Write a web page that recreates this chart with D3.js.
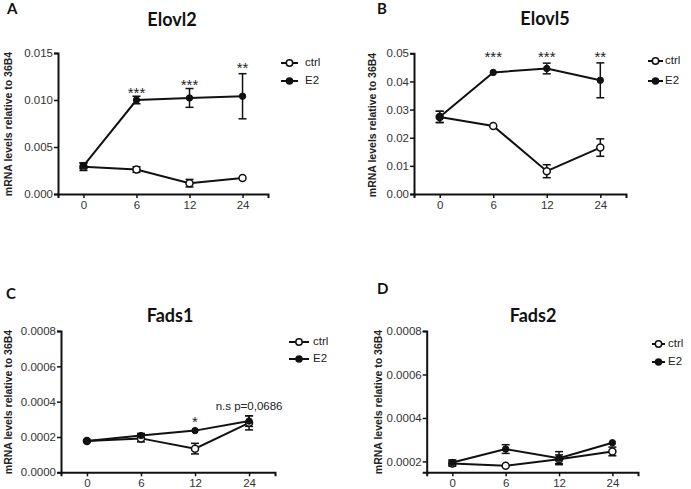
<!DOCTYPE html>
<html><head><meta charset="utf-8">
<script src="https://cdn.jsdelivr.net/npm/d3@7"></script>
<style>body{margin:0;background:#fff}svg{display:block}</style>
</head><body>
<svg id="c" width="691" height="489"></svg>
<script>
// ---- data ----
const timepoints = ["0","6","12","24"];
const seriesNames = ["ctrl","E2"];
const panelLetters = ["A","B","C","D"];
const genes = ["Elovl2","Elovl5","Fads1","Fads2"];

const elovl2Ctrl = [0.0029, 0.0026, 0.00115, 0.0017];
const elovl2CtrlErr = [0.0004, 0.0003, 0.0004, 0.0001];
const elovl2E2 = [0.0030, 0.0100, 0.01022, 0.0104];
const elovl2E2Err = [0.0003, 0.0004, 0.0010, 0.0024];
const elovl2Ticks = [0, 0.005, 0.010, 0.015];
const elovl2Stars = ["", "***", "***", "**"];

const elovl5Ctrl = [0.0274, 0.0242, 0.0081, 0.0165];
const elovl5CtrlErr = [0.0020, 0.0003, 0.0023, 0.0031];
const elovl5E2 = [0.0274, 0.0432, 0.0446, 0.0404];
const elovl5E2Err = [0.0020, 0.0003, 0.0019, 0.0062];
const elovl5Ticks = [0, 0.01, 0.02, 0.03, 0.04, 0.05];
const elovl5Stars = ["", "***", "***", "**"];

const fads1Ctrl = [0.000177, 0.000192, 0.000134, 0.000280];
const fads1CtrlErr = [0.000004, 0.000020, 0.000030, 0.000040];
const fads1E2 = [0.000177, 0.000208, 0.000236, 0.000290];
const fads1E2Err = [0.000004, 0.000012, 0.000004, 0.000030];
const fads1Ticks = [0, 0.0002, 0.0004, 0.0006, 0.0008];
const fads1Stars = ["", "", "*", "n.s p=0,0686"];

const fads2Ctrl = [0.000190, 0.000180, 0.000210, 0.000246];
const fads2CtrlErr = [0.000012, 0.000004, 0.000020, 0.000020];
const fads2E2 = [0.000195, 0.000257, 0.000215, 0.000286];
const fads2E2Err = [0.000012, 0.000020, 0.000030, 0.000004];
const fads2Ticks = [0.0002, 0.0004, 0.0006, 0.0008];
const fads2Stars = ["", "", "", ""];

const yDomains = [[0, 0.015], [0, 0.05], [0, 0.0008], [0.00015, 0.0008]];
const tickFormats = [".3f", ".2f", ".4f", ".4f"];

// ---- layout ----
const layout = [
  {x0:58, x1:268, y0:194, y1:53, title:[172,26], letter:[7,14], ylab:[9,124], starY:[0,90,82,65], leg:[281,298,305,63,81]},
  {x0:414, x1:626, y0:194, y1:53.3, title:[545,25], letter:[377,14], ylab:[373,125], starY:[0,54,54,54], leg:[648,663,665,61,81]},
  {x0:61, x1:275, y0:472.3, y1:331, title:[170,322], letter:[6,299], ylab:[9,402], starY:[0,419,419,410], leg:[289,309,313,342,359]},
  {x0:426.7, x1:638, y0:472.3, y1:331, title:[533,322], letter:[377,294], ylab:[379,402], starY:[0,0,0,0], leg:[652,665,668,344,362]}
];

const data = [
  {ctrl:elovl2Ctrl, ctrlErr:elovl2CtrlErr, e2:elovl2E2, e2Err:elovl2E2Err, ticks:elovl2Ticks, stars:elovl2Stars},
  {ctrl:elovl5Ctrl, ctrlErr:elovl5CtrlErr, e2:elovl5E2, e2Err:elovl5E2Err, ticks:elovl5Ticks, stars:elovl5Stars},
  {ctrl:fads1Ctrl, ctrlErr:fads1CtrlErr, e2:fads1E2, e2Err:fads1E2Err, ticks:fads1Ticks, stars:fads1Stars},
  {ctrl:fads2Ctrl, ctrlErr:fads2CtrlErr, e2:fads2E2, e2Err:fads2E2Err, ticks:fads2Ticks, stars:fads2Stars}
];

const svg = d3.select("#c");
const FONT = "'Liberation Sans', Arial, sans-serif";
const TFONT = "Lato, 'Open Sans', sans-serif";

data.forEach((d, i) => {
  const L = layout[i];
  const g = svg.append("g");
  const x = d3.scalePoint().domain(timepoints).range([L.x0, L.x1]).padding(0.48);
  const y = d3.scaleLinear().domain(yDomains[i]).range([L.y0, L.y1]);

  // axes
  const yAx = g.append("g").attr("transform", `translate(${L.x0},0)`)
    .call(d3.axisLeft(y).tickValues(d.ticks).tickFormat(d3.format(tickFormats[i])).tickSizeOuter(0).tickSize(4));
  const xAx = g.append("g").attr("transform", `translate(0,${L.y0})`)
    .call(d3.axisBottom(x).tickSizeOuter(0).tickSize(4));
  [yAx, xAx].forEach(a => {
    a.select(".domain").attr("stroke", "#111").attr("stroke-width", 2);
    a.selectAll(".tick line").attr("stroke", "#111").attr("stroke-width", 1.5);
    a.selectAll(".tick text").attr("fill", "#333").style("font-family", FONT).style("font-size", "11.5px");
  });
  yAx.selectAll(".tick text").attr("x", -5);
  xAx.selectAll(".tick text").attr("y", 7);

  // y label
  g.append("text").attr("transform", `translate(${L.ylab[0]},${L.ylab[1]}) rotate(-90)`)
    .attr("text-anchor", "middle").attr("dominant-baseline", "middle")
    .style("font-family", FONT).style("font-weight", "bold").style("font-size", "10.5px")
    .attr("fill", "#222").text("mRNA levels relative to 36B4");

  // title, letter
  g.append("text").attr("x", L.title[0]).attr("y", L.title[1]).attr("text-anchor", "middle")
    .style("font-family", TFONT).style("font-weight", "bold").style("font-size", "18px").attr("fill", "#111").text(genes[i]);
  g.append("text").attr("x", L.letter[0]).attr("y", L.letter[1])
    .style("font-family", TFONT).style("font-weight", "bold").style("font-size", "15px").attr("fill", "#111").text(panelLetters[i]);

  // series
  const series = [
    {vals: d.ctrl, err: d.ctrlErr, open: true},
    {vals: d.e2, err: d.e2Err, open: false}
  ];
  const line = d3.line().x((v, k) => x(timepoints[k])).y(v => y(v));
  series.forEach(s => {
    g.append("path").attr("d", line(s.vals)).attr("fill", "none").attr("stroke", "#111").attr("stroke-width", 2);
  });
  series.forEach(s => {
    s.vals.forEach((v, k) => {
      const cx = x(timepoints[k]);
      const hi = y(v + s.err[k]), lo = y(v - s.err[k]);
      if (Math.abs(lo - hi) > 2) {
        g.append("line").attr("x1", cx).attr("x2", cx).attr("y1", hi).attr("y2", lo).attr("stroke", "#111").attr("stroke-width", 1.5);
        [hi, lo].forEach(yy => g.append("line").attr("x1", cx - 4).attr("x2", cx + 4).attr("y1", yy).attr("y2", yy).attr("stroke", "#111").attr("stroke-width", 1.5));
      }
    });
  });
  series.forEach(s => {
    s.vals.forEach((v, k) => {
      g.append("circle").attr("cx", x(timepoints[k])).attr("cy", y(v))
        .attr("r", s.open ? 3.5 : 3.2)
        .attr("fill", s.open ? "#fff" : "#111").attr("stroke", "#111").attr("stroke-width", s.open ? 1.5 : 1);
    });
  });

  // significance
  d.stars.forEach((t, k) => {
    if (!t) return;
    const isStar = /^\*+$/.test(t);
    g.append("text").attr("x", x(timepoints[k])).attr("y", L.starY[k] + (isStar ? 8 : 0)).attr("text-anchor", "middle")
      .style("font-family", FONT).style("font-size", isStar ? "15px" : "11.5px").attr("fill", "#222").text(t);
  });

  // legend
  seriesNames.forEach((nm, j) => {
    const ly = L.leg[3 + j];
    const mx = (L.leg[0] + L.leg[1]) / 2;
    g.append("line").attr("x1", L.leg[0]).attr("x2", L.leg[1]).attr("y1", ly).attr("y2", ly).attr("stroke", "#111").attr("stroke-width", 2);
    g.append("circle").attr("cx", mx).attr("cy", ly).attr("r", j === 0 ? 3.2 : 3)
      .attr("fill", j === 0 ? "#fff" : "#111").attr("stroke", "#111").attr("stroke-width", 1.5);
    g.append("text").attr("x", L.leg[2]).attr("y", ly).attr("dominant-baseline", "middle")
      .style("font-family", FONT).style("font-size", "11.5px").attr("fill", "#222").text(nm);
  });
});
</script>
</body></html>
